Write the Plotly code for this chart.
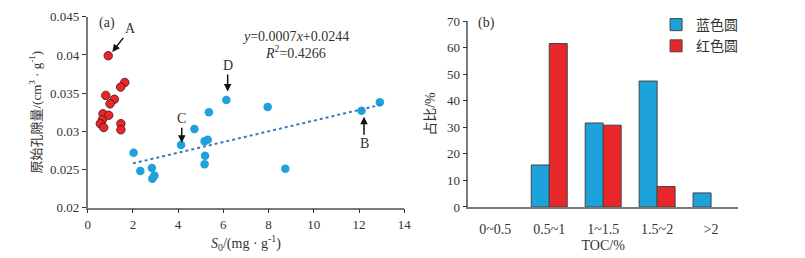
import plotly.graph_objects as go

# ---- Panel (a) data ----
red_s0 = [0.91, 1.64, 1.46, 0.80, 1.18, 0.99, 0.68, 0.93, 0.65, 0.56, 0.71, 1.47, 1.47]
red_phi = [0.0399, 0.0364, 0.0358, 0.0347, 0.0342, 0.0336, 0.0323, 0.0321, 0.0315, 0.0310, 0.0305, 0.0310, 0.0302]
blue_s0 = [2.03, 2.33, 2.84, 2.95, 2.86, 4.13, 4.72, 5.36, 5.31, 5.17, 5.19, 5.17, 6.13, 7.96, 8.74, 12.11, 12.92]
blue_phi = [0.0272, 0.0248, 0.0252, 0.0242, 0.0238, 0.0282, 0.0303, 0.0325, 0.0289, 0.0287, 0.0268, 0.0257, 0.0341, 0.0332, 0.0251, 0.0327, 0.0338]
fit_slope = 0.0007
fit_intercept = 0.0244
fit_x = [2.0, 13.0]

# ---- Panel (b) data ----
toc_bins = ["0~0.5", "0.5~1", "1~1.5", "1.5~2", ">2"]
blue_pct = [0, 15.8, 31.6, 47.4, 5.3]
red_pct = [0, 61.5, 30.8, 7.7, 0]

RED = "#E8272B"
BLUE = "#1DA2DB"
AX = "#7a7a7a"
TXT = "#333333"
FONT = "Liberation Serif, Times New Roman, Noto Sans CJK SC, serif"

fig = go.Figure()

fig.add_trace(go.Scatter(x=red_s0, y=red_phi, mode="markers",
                         marker=dict(size=8.5, color=RED, line=dict(color="#4a1010", width=0.8)),
                         showlegend=False, xaxis="x", yaxis="y"))
fig.add_trace(go.Scatter(x=blue_s0, y=blue_phi, mode="markers",
                         marker=dict(size=8.5, color=BLUE, line=dict(width=0)),
                         showlegend=False, xaxis="x", yaxis="y"))
fig.add_trace(go.Scatter(x=fit_x, y=[fit_slope * v + fit_intercept for v in fit_x], mode="lines",
                         line=dict(color="#3C78BE", width=2, dash="dot"),
                         showlegend=False, xaxis="x", yaxis="y"))

def nz(vals):
    return [v if v > 0 else None for v in vals]

fig.add_trace(go.Bar(x=toc_bins, y=nz(blue_pct), name="蓝色圆", marker=dict(color=BLUE, line=dict(color="#444", width=1)),
                     xaxis="x2", yaxis="y2"))
fig.add_trace(go.Bar(x=toc_bins, y=nz(red_pct), name="红色圆", marker=dict(color=RED, line=dict(color="#444", width=1)),
                     xaxis="x2", yaxis="y2"))

axis_common = dict(showgrid=False, zeroline=False, showline=True, linecolor=AX, linewidth=1.5,
                   ticks="outside", tickcolor="#333", ticklen=4, tickwidth=1.2, automargin=False,
                   tickfont=dict(family=FONT, size=13, color=TXT))

fig.update_layout(
    width=805, height=258, margin=dict(l=0, r=0, t=0, b=0),
    paper_bgcolor="white", plot_bgcolor="white",
    font=dict(family=FONT, color=TXT),
    bargap=0.333, bargroupgap=0,
    xaxis=dict(domain=[0.1089, 0.5022], range=[0, 14], tickvals=[0, 2, 4, 6, 8, 10, 12, 14],
               title=dict(text="<i>S</i><sub>0</sub>/(mg · g<sup>-1</sup>)", font=dict(size=14, family=FONT, color=TXT), standoff=7),
               anchor="y", **axis_common),
    yaxis=dict(domain=[0.195, 0.935], range=[0.02, 0.045], tickvals=[0.02, 0.025, 0.03, 0.035, 0.04, 0.045],
               ticktext=["0.02", "0.025", "0.03", "0.035", "0.04", "0.045"],
               title=dict(text="原始孔隙量/(cm<sup>3</sup> · g<sup>-1</sup>)", font=dict(size=13, family=FONT, color=TXT), standoff=6),
               anchor="x", **axis_common),
    xaxis2=dict(domain=[0.5818, 0.9168], range=[-0.5, 4.5], type="category",
                title=dict(text="TOC/%", font=dict(size=14, family=FONT, color=TXT), standoff=5),
                anchor="y2", **{**axis_common, "ticks": "", "ticklabelstandoff": 8,
                                "tickfont": dict(family=FONT, size=14, color=TXT)}),
    yaxis2=dict(domain=[0.1977, 0.9186], range=[0, 70], tickvals=[0, 10, 20, 30, 40, 50, 60, 70],
                title=dict(text="占比/%", font=dict(size=14, family=FONT, color=TXT), standoff=8),
                anchor="x2", **axis_common),
    legend=dict(x=0.815, y=0.965, xanchor="left", yanchor="top", bgcolor="rgba(0,0,0,0)",
                font=dict(size=14, family=FONT, color=TXT), itemwidth=30, tracegroupgap=4),
)

ann_font = dict(family=FONT, size=14, color=TXT)
arrow = dict(showarrow=True, arrowhead=2, arrowsize=1, arrowwidth=1.5, arrowcolor="#111", font=ann_font)
anns = [
    dict(x=0.87, y=0.0442, xref="x", yref="y", text="(a)", showarrow=False, font=ann_font),
    dict(x=9.17, y=0.0424, xref="x", yref="y", text="<i>y</i>=0.0007<i>x</i>+0.0244", showarrow=False, font=ann_font),
    dict(x=9.17, y=0.0404, xref="x", yref="y", text="<i>R</i><sup>2</sup>=0.4266", showarrow=False, font=ann_font),
    dict(x=1.09, y=0.0404, xref="x", yref="y", text="A", ax=18, ay=-23, **arrow),
    dict(x=4.16, y=0.0285, xref="x", yref="y", text="C", ax=0, ay=-24, **arrow),
    dict(x=6.19, y=0.0352, xref="x", yref="y", text="D", ax=0, ay=-26, **arrow),
    dict(x=12.22, y=0.0319, xref="x", yref="y", text="B", ax=0, ay=27, **arrow),
    dict(x=-0.16, y=69.4, xref="x2", yref="y2", text="(b)", showarrow=False, font=ann_font),
]
fig.update_layout(annotations=anns)

fig.write_html("out.html", config={"displayModeBar": False},
               post_script="document.body.style.margin='0';document.body.style.overflow='hidden';")
